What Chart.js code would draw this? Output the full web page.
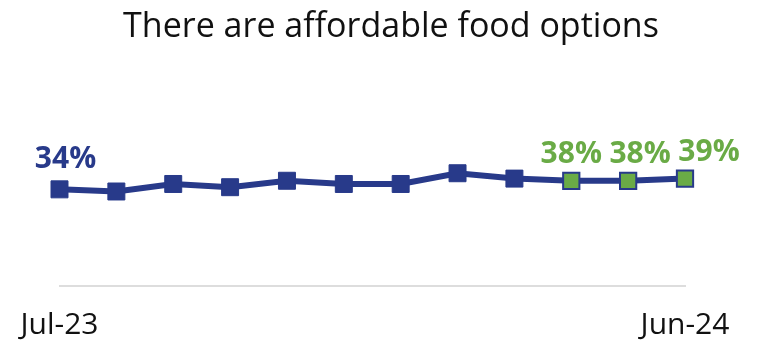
<!DOCTYPE html>
<html>
<head>
<meta charset="utf-8">
<script src="https://cdn.jsdelivr.net/npm/chart.js@4/dist/chart.umd.min.js"></script>
<style>
  html, body { margin: 0; padding: 0; background: #fff; }
  #wrap { width: 768px; height: 344px; }
</style>
</head>
<body>
<div id="wrap"><canvas id="chart" width="768" height="344"></canvas></div>
<script>
const chartTitle = 'There are affordable food options';
const months = ['Jul-23', 'Aug-23', 'Sep-23', 'Oct-23', 'Nov-23', 'Dec-23',
                'Jan-24', 'Feb-24', 'Mar-24', 'Apr-24', 'May-24', 'Jun-24'];
const affordable = [34, 33, 36.5, 35, 38, 36.5, 36.5, 41.5, 39, 38, 38, 39];
const labelled = [0, 9, 10, 11];
const recentCount = 3;

const BLUE = '#283a8a';
const GREEN = '#6aab46';
const FONT = '"Open Sans", "Noto Sans", sans-serif';

const isRecent = i => i >= affordable.length - recentCount;

// heading, sitting a little right of the canvas centre
const heading = {
  id: 'heading',
  afterDraw(chart) {
    const { ctx } = chart;
    ctx.save();
    ctx.font = `34px ${FONT}`;
    ctx.fillStyle = '#111';
    ctx.textAlign = 'center';
    ctx.textBaseline = 'alphabetic';
    ctx.fillText(chartTitle, 391, 37);
    ctx.restore();
  }
};

// value labels above selected points, nudged right where they would collide
const labelNudge = { 0: 6, 10: 12, 11: 24 };
const valueLabels = {
  id: 'valueLabels',
  afterDatasetsDraw(chart) {
    const { ctx } = chart;
    const meta = chart.getDatasetMeta(0);
    ctx.save();
    ctx.font = `bold 30px ${FONT}`;
    ctx.textAlign = 'center';
    ctx.textBaseline = 'alphabetic';
    labelled.forEach(i => {
      const pt = meta.data[i];
      ctx.fillStyle = isRecent(i) ? GREEN : BLUE;
      const dy = i === 0 ? 21 : 18;
      ctx.fillText(affordable[i] + '%', pt.x + (labelNudge[i] || 0), pt.y - dy);
    });
    ctx.restore();
  }
};

new Chart(document.getElementById('chart'), {
  type: 'line',
  data: {
    labels: months,
    datasets: [{
      data: affordable,
      borderColor: BLUE,
      borderWidth: 6,
      tension: 0,
      pointStyle: 'rect',
      pointRadius: c => isRecent(c.dataIndex) ? 11.5 : 12,
      pointBackgroundColor: c => isRecent(c.dataIndex) ? GREEN : BLUE,
      pointBorderColor: BLUE,
      pointBorderWidth: c => isRecent(c.dataIndex) ? 2 : 1,
      pointHoverRadius: 12
    }]
  },
  options: {
    responsive: false,
    animation: false,
    events: [],
    layout: { padding: { left: 59.5, right: 83, top: 100, bottom: 2 } },
    plugins: {
      legend: { display: false },
      tooltip: { enabled: false },
      title: { display: false }
    },
    scales: {
      x: {
        grid: { display: false, drawTicks: false },
        border: { display: true, color: '#dddddd', width: 2 },
        afterFit: s => { s.height = 56; },
        ticks: {
          autoSkip: false,
          maxRotation: 0,
          padding: 20,
          color: '#111',
          font: { family: FONT, size: 30, lineHeight: 1.33 },
          callback: (v, i) => (i === 0 || i === months.length - 1) ? months[i] : ''
        }
      },
      y: {
        display: false,
        min: -11,
        max: 75.6
      }
    }
  },
  plugins: [valueLabels, heading]
});
</script>
</body>
</html>
